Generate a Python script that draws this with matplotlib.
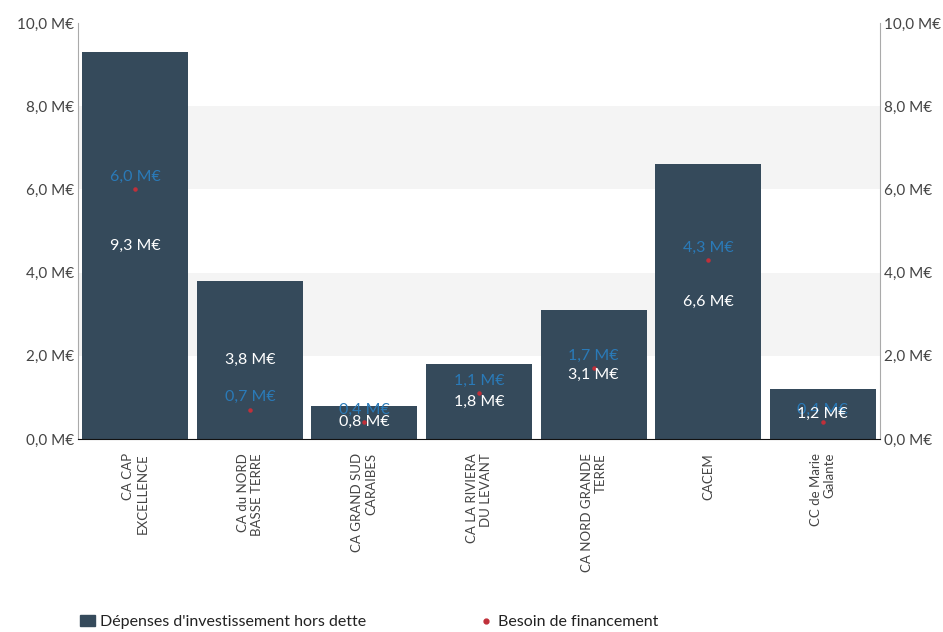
import matplotlib
matplotlib.use('Agg')
import matplotlib.pyplot as plt
from matplotlib.lines import Line2D
from matplotlib.patches import Patch

plt.rcParams['font.family'] = ['Lato', 'DejaVu Sans']

# categories and values (M€)
categories = ['CA CAP\nEXCELLENCE', 'CA du NORD\nBASSE TERRE', 'CA GRAND SUD\nCARAIBES',
              'CA LA RIVIERA\nDU LEVANT', 'CA NORD GRANDE\nTERRE', 'CACEM', 'CC de Marie\nGalante']
depenses = [9.3, 3.8, 0.8, 1.8, 3.1, 6.6, 1.2]
besoin = [6.0, 0.7, 0.4, 1.1, 1.7, 4.3, 0.4]
ticks = [0, 2, 4, 6, 8, 10]

def fmt(v):
    return ('%.1f M€' % v).replace('.', ',')

bar_color = '#354a5b'
dot_color = '#c0303a'
label_blue = '#2a7ab8'

fig = plt.figure(figsize=(9.43, 6.32), dpi=100)
ax = fig.add_axes([78 / 943, 1 - 439 / 632, (880 - 78) / 943, (439 - 23) / 632])

# alternating background bands
for lo in (2, 6):
    ax.axhspan(lo, lo + 2, color='#f4f4f4', zorder=0, lw=0)

x = list(range(len(categories)))
ax.bar(x, depenses, width=0.925, color=bar_color, zorder=2)
ax.scatter(x, besoin, s=5, color=dot_color, zorder=4)

for xi, d, b in zip(x, depenses, besoin):
    ax.text(xi, d / 2, fmt(d), color='white', ha='center', va='center', fontsize=11.5, zorder=5)
    ax.annotate(fmt(b), (xi, b), xytext=(0, 9), textcoords='offset points',
                color=label_blue, ha='center', va='center', fontsize=11.5, zorder=3)

ax.set_xlim(-0.5, len(categories) - 0.5)
ax.set_ylim(0, 10)
ax.set_yticks(ticks)
ax.set_yticklabels([fmt(t) for t in ticks])
ax.set_xticks(x)
ax.set_xticklabels(categories, rotation=90, ha='center', va='top', multialignment='right',
                   fontsize=9.5, color='#444444')
ax.tick_params(axis='x', length=0, pad=10)
ax.tick_params(axis='y', length=0, labelsize=11, labelcolor='#444444', pad=3,
               right=True, labelright=True)

ax.spines['top'].set_visible(False)
ax.spines['left'].set_color('#aaaaaa')
ax.spines['right'].set_color('#aaaaaa')
ax.spines['bottom'].set_color('#111111')
ax.spines['bottom'].set_zorder(6)

handles = [Patch(color=bar_color, label="Dépenses d'investissement hors dette"),
           Line2D([], [], marker='o', ls='', color=dot_color, markersize=3.5,
                  label='Besoin de financement')]
fig.legend(handles=handles, loc='center left', bbox_to_anchor=(66 / 943, 1 - 622 / 632), ncol=2,
           frameon=False, fontsize=11.5, columnspacing=7.1, handlelength=0.9,
           handletextpad=0.3, labelcolor='#222222')

fig.savefig('out.png', dpi=100)
